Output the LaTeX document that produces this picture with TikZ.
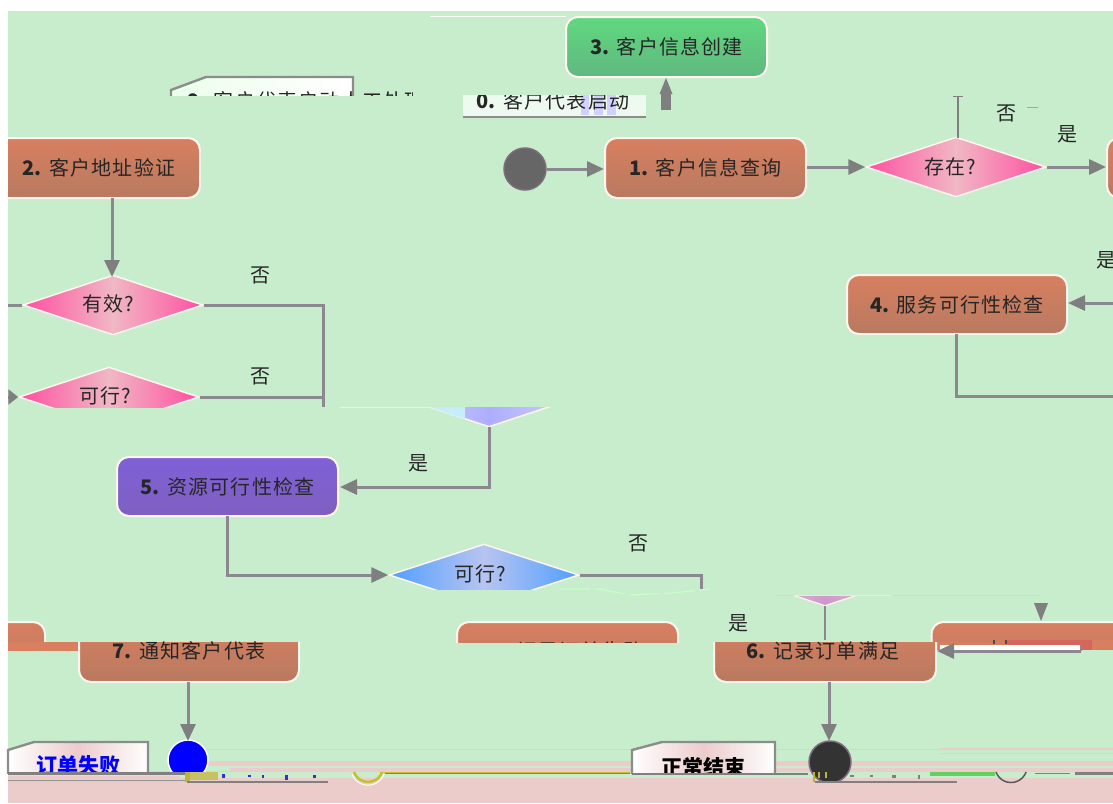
\documentclass[tikz,border=0pt]{standalone}
\usepackage{fontspec}
\setmainfont{Noto Sans CJK SC}
\usetikzlibrary{arrows.meta,shapes.geometric}
\definecolor{bgreen}{HTML}{C8EDCC}
\definecolor{bpink}{HTML}{EBCCCB}
\definecolor{edge}{HTML}{8C8890}
\definecolor{tip}{HTML}{7F7F7F}
\definecolor{orange1}{HTML}{D87F60}
\definecolor{orange2}{HTML}{B87A60}
\definecolor{green1}{HTML}{60D87F}
\definecolor{green2}{HTML}{60B87F}
\definecolor{purple1}{HTML}{7F60D8}
\definecolor{purple2}{HTML}{7F60C0}
\definecolor{dp}{HTML}{FF4FA0}
\definecolor{dpm}{HTML}{F0B8C4}
\definecolor{db}{HTML}{4F9FFF}
\definecolor{dbm}{HTML}{B8C4F0}
\definecolor{rim}{HTML}{FFF4F0}
\definecolor{patchred}{HTML}{D4665E}
\newcommand{\nb}[1]{{\addfontfeature{LetterSpace=0}\textbf{#1}}}
\tikzset{
  lbl/.style={font=\fontsize{20}{22}\selectfont\addfontfeature{LetterSpace=6},text=black!85,inner sep=0pt},
  yn/.style={font=\fontsize{20}{22}\selectfont,text=black!85,inner sep=0pt},
  flowbox/.style={draw=rim,line width=2pt,rounded corners=12pt,inner sep=0pt,font=\fontsize{20}{22}\selectfont\addfontfeature{LetterSpace=6},text=black!85},
  orange box/.style={flowbox,top color=orange1,bottom color=orange2},
  green box/.style={flowbox,top color=green1,bottom color=green2},
  purple box/.style={flowbox,top color=purple1,bottom color=purple2},
  pink dia/.style={diamond,draw=rim,line width=1.5pt,inner sep=0pt,left color=dp,right color=dp,middle color=dpm},
  blue dia/.style={diamond,draw=rim,line width=1.5pt,inner sep=0pt,left color=db,right color=db,middle color=dbm},
  flow/.style={draw=edge,line width=3pt},
  arr/.style={flow,-{Triangle[length=17pt,width=15pt,color=tip]}},
  note/.style={draw=gray!90,line width=2.4pt},
}
\begin{document}
\begin{tikzpicture}[x=1pt,y=-1pt]
\useasboundingbox (0,0) rectangle (1113,803);
\fill[white] (0,0) rectangle (1113,803);
\fill[bgreen] (8,11) rectangle (1113,803);
% bottom glitch bands
\fill[bpink] (8,778) rectangle (1113,803);
\fill[bpink] (200,749) rectangle (1113,750);
\fill[bpink] (200,761) rectangle (1113,766);
\fill[bpink] (8,776) rectangle (180,781);
\fill[bpink] (230,768) rectangle (1113,771);
\fill[bpink] (940,748) rectangle (1113,749);
\fill[bpink] (940,753) rectangle (1113,754);
\fill[bpink] (8,771) rectangle (1113,772);
% top sliver
\draw[white,line width=1pt] (430,16) -- (566,16);
\draw[blue!25,line width=1pt] (610,16) -- (755,16);

% note: top-left
\begin{scope}
\clip (160,60) rectangle (412,95);
\path[note,left color=green!8,right color=white] (171,90) -- (206,77) -- (353,77) -- (353,120) -- (171,120) -- cycle;
\node[lbl,anchor=west] (noteA) at (187,101) {\nb{9.} 客户代表启动人工处理};
\end{scope}
% note 0
\begin{scope}
\clip (463,95) rectangle (650,120);
\fill[white!70!bgreen] (463,90) rectangle (646,117);
\fill[blue!18] (581,95) rectangle (589,115);
\fill[blue!18] (594,95) rectangle (603,115);
\fill[blue!18] (607,95) rectangle (616,115);
\node[lbl] (note0) at (553,101) {\nb{0.} 客户代表启动};
\draw[gray!90,line width=2.4pt] (463,117) -- (646,117);
\end{scope}

% boxes
\node[green box,minimum width=201pt,minimum height=60pt] (b3) at (666.5,47) {\nb{3.} 客户信息创建};
\node[orange box,minimum width=201pt,minimum height=60pt] (b1) at (705.5,168) {\nb{1.} 客户信息查询};
\begin{scope}
\clip (8,130) rectangle (210,205);
\node[orange box,minimum width=212pt,minimum height=60pt] (b2) at (94,168) {};
\node[lbl] (b2t) at (99,168) {\nb{2.} 客户地址验证};
\end{scope}
\node[orange box,minimum width=220pt,minimum height=59pt] (b4) at (957,304.5) {\nb{4.} 服务可行性检查};
\node[purple box,minimum width=221pt,minimum height=59pt] (b5) at (227.5,486.5) {\nb{5.} 资源可行性检查};
\begin{scope}
\clip (1100,130) rectangle (1113,205);
\node[orange box,minimum width=200pt,minimum height=60pt] (b9) at (1207,168) {};
\end{scope}

% diamonds
\node[pink dia,minimum width=180pt,minimum height=60pt] (d1) at (956,167) {};
\node[lbl] (d1t) at (950,167) {存在?};
\node[pink dia,minimum width=180pt,minimum height=60pt] (d2) at (113,305) {};
\node[lbl] (d2t) at (108,304) {有效?};
\begin{scope}
\clip (8,360) rectangle (230,407);
\node[pink dia,minimum width=180pt,minimum height=60pt] (d3) at (109,397) {};
\node[lbl] (d3t) at (105,396) {可行?};
\end{scope}
\fill[pink!70] (170,406.5) rectangle (205,407.5);
\begin{scope}
\clip (380,540) rectangle (600,589);
\node[blue dia,minimum width=190pt,minimum height=62pt] (d4) at (484,575) {};
\node[lbl] (d4t) at (480,574) {可行?};
\end{scope}
% clipped lower tip of upper diamond
\begin{scope}
\clip (420,407) rectangle (560,430);
\node[diamond,draw=rim,line width=1.5pt,inner sep=0pt,left color=blue!18,right color=blue!18,middle color=blue!32,minimum width=180pt,minimum height=60pt] (d5) at (489,397) {};
\clip (399,397) -- (489,427) -- (579,397) -- cycle;
\fill[cyan!22] (420,400) rectangle (465,430);
\end{scope}
\begin{scope}
\clip (770,595) rectangle (870,610);
\node[diamond,draw=rim,line width=1.2pt,inner sep=0pt,left color=pink!80,right color=pink!80,middle color=violet!40,minimum width=180pt,minimum height=60pt] (d6) at (825,576) {};
\end{scope}
\draw[cyan!15,line width=1pt] (340,407) -- (430,407);
\draw[blue!18,line width=1pt] (776,595) -- (793,595);
\draw[blue!18,line width=1pt] (892,595) -- (1040,595);
\draw[green!22,line width=1pt] (793,595) -- (892,595);
\draw[green!22!white,line width=1.2pt,dash pattern=on 30pt off 5pt] (560,589) -- (600,589) -- (630,595) -- (672,593) -- (710,589);

% clipped lower-row boxes
\begin{scope}
\clip (8,615) rectangle (1113,642);
\node[orange box,minimum width=210pt,minimum height=60pt] (b8a) at (-60,652) {};
\node[orange box,minimum width=221pt,minimum height=60pt] (b8b) at (567.5,652) {};
\node[lbl] (b8t) at (567,651) {\nb{8.} 记录订单失败};
\node[orange box,minimum width=221pt,minimum height=60pt] (b8c) at (1042,652) {};
\end{scope}
\fill[orange1] (8,642) rectangle (80,651);
\fill[orange1] (933,642) rectangle (955,650);
\fill[orange1!90!orange2] (955,642) rectangle (1113,645);
\fill[orange1] (1081,642) rectangle (1113,650);
\fill[patchred] (1007,640) rectangle (1092,650);
\fill[orange1] (1092,640) rectangle (1113,650);
\fill[black!70] (993,640) rectangle (994.5,644);
\fill[black!70] (1005,640) rectangle (1006.5,644);
\fill[white] (940,645) rectangle (1081,650);

% box 7, 6
\begin{scope}
\clip (76,642) rectangle (305,690);
\node[orange box,minimum width=220pt,minimum height=60pt] (b7) at (189,652) {};
\end{scope}
\begin{scope}
\clip (710,642) rectangle (940,690);
\node[orange box,minimum width=222pt,minimum height=60pt] (b6) at (825,652) {};
\end{scope}
\node[lbl] (b7t) at (189,651) {\nb{7.} 通知客户代表};
\node[lbl] (b6t) at (823,651) {\nb{6.} 记录订单满足};

% start circle
\node[circle,draw=gray!85!violet,line width=1.5pt,fill=black!60,minimum size=42pt,inner sep=0pt] (start) at (525,169) {};

% notes at bottom + end circles
\begin{scope}
\clip (0,730) rectangle (1113,773);
\path[note,left color=white,right color=white,middle color=bpink] (8,750) -- (34,742) -- (148,742) -- (148,790) -- (8,790) -- cycle;
\node[font=\fontsize{21}{22}\selectfont\bfseries,text=blue,inner sep=0pt] (nf) at (78,766) {订单失败};
\path[note,left color=white,right color=white,middle color=bpink] (632,750) -- (662,742) -- (775,742) -- (775,790) -- (632,790) -- cycle;
\node[font=\fontsize{21}{22}\selectfont\bfseries,text=black,inner sep=0pt] (nk) at (703,767) {正常结束};
\node[circle,draw=white,line width=1.5pt,fill=blue,minimum size=40pt,inner sep=0pt] (ef) at (188,760) {};
\end{scope}
\begin{scope}
\clip (800,730) rectangle (860,781);
\node[circle,draw=gray!85!violet,line width=1.5pt,fill=black!80,minimum size=42pt,inner sep=0pt] (ek) at (830,762) {};
\end{scope}

% bottom lines
\fill[gray] (8,772) rectangle (188,775);
\fill[gray!85] (8,780) rectangle (188,781);
\fill[yellow!70!black] (185,772) rectangle (190,782);
\fill[yellow!50!gray] (190,772) rectangle (218,780);
\draw[gray,line width=2pt] (187,782) -- (328,782);
\draw[gray,line width=1.5pt] (385,773.5) -- (630,773.5);
\fill[yellow!75!black] (380,772) rectangle (630,772.8);
\draw[yellow!75!black,line width=2.5pt] (354,772) arc[start angle=200,end angle=340,radius=15pt];
\draw[white,line width=1pt] (352,774) arc[start angle=200,end angle=340,radius=17pt];
\draw[gray,line width=2pt] (632,773.5) -- (808,773.5);
\draw[gray,line width=2pt] (815,782) -- (957,782);
\fill[yellow!70!black] (813,772) rectangle (815,782);
\fill[yellow!70!black] (818,772) rectangle (820,778);
\fill[yellow!70!black] (825,772) rectangle (827,778);
\fill[green!55!gray!80] (930,772) rectangle (995,776);
\draw[gray!70!black,line width=1.5pt] (996,772) arc[start angle=200,end angle=340,radius=16pt];
\draw[gray,line width=1.5pt] (1035,773.5) -- (1070,773.5);
\draw[gray,line width=2.5pt] (1075,773.5) -- (1113,773.5);
\fill[blue!60!gray] (222,774) rectangle (225,778);
\fill[blue!60!gray] (248,775) rectangle (251,777);
\fill[blue!60!gray] (262,775) rectangle (264,778);
\fill[blue!60!gray] (285,775) rectangle (288,780);
\fill[blue!60!gray] (313,775) rectangle (316,778);
\fill[gray] (850,775) rectangle (854,777);
\fill[gray] (870,775) rectangle (873,777);
\fill[gray] (892,775) rectangle (896,778);
\fill[gray] (918,775) rectangle (920,779);

% connectors
\coordinate (d1up) at (958,96);
\coordinate (b4in) at (1113,303);
\coordinate (b4out) at (1113,396);
\coordinate (d2l) at (8,305);
\coordinate (d2r) at (323,407);
\coordinate (d3l) at (8,397);
\coordinate (d5b) at (489,427);
\coordinate (d4e) at (701,589);
\coordinate (d6b) at (825,606);
\coordinate (t8) at (1041,621);
\coordinate (b6in) at (1081,651);
\coordinate (b6e) at (937,651);
\fill[tip] (661,94) rectangle (671,110);
\fill[tip] (666,78) -- (672.5,94) -- (659.5,94) -- cycle;
\draw[arr] (start.east) -- (start.east -| b1.west);
\draw[arr] (b1.east |- d1.west) -- (d1.west);
\draw[gray,line width=1.5pt] (958,138) -- (d1up);
\draw[gray,line width=1pt] (953,96) -- (963,96);
\draw[gray!70,line width=1pt] (1027,107) -- (1038,107);
\draw[arr] (d1.east) -- (b9.west |- d1.east);
\draw[arr] (b4in) -- (b4in -| b4.east);
\draw[flow] (956,334) -- (956,396) -- (b4out);
\draw[arr] (112,198) -- (112,277);
\draw[flow] (d2l) -- (d2.west);
\draw[flow] (d2.east) -- (323,305) -- (d2r);
\draw[flow] (d3.east) -- (323,397);
\draw[flow,-{Triangle[length=10pt,width=15pt,color=tip]}] (d3l) -- (d3.west);
\draw[arr] (d5b) -- (489,487) -- (340,487);
\draw[arr] (227,516) -- (227,575) -- (d4.west);
\draw[flow] (d4.east) -- (701,575) -- (d4e);
\draw[edge,line width=2pt] (d6b) -- (825,640);
\fill[tip] (t8) -- (1034,603) -- (1048,603) -- cycle;
\draw[edge,line width=2.6pt] (1081,645) -- (b6in);
\draw[arr] (b6in) -- (b6e);
\draw[arr] (188,682) -- (188,741);
\draw[arr] (829,682) -- (829,741);

% labels
\node[yn] (n1) at (1006,113) {否};
\node[yn] (y1) at (1067,134) {是};
\node[yn] (y2) at (1106,260) {是};
\node[yn] (n2) at (260,275) {否};
\node[yn] (n3) at (260,376) {否};
\node[yn] (y3) at (418,463) {是};
\node[yn] (n4) at (638,543) {否};
\node[yn] (y4) at (738,623) {是};
\end{tikzpicture}
\end{document}
